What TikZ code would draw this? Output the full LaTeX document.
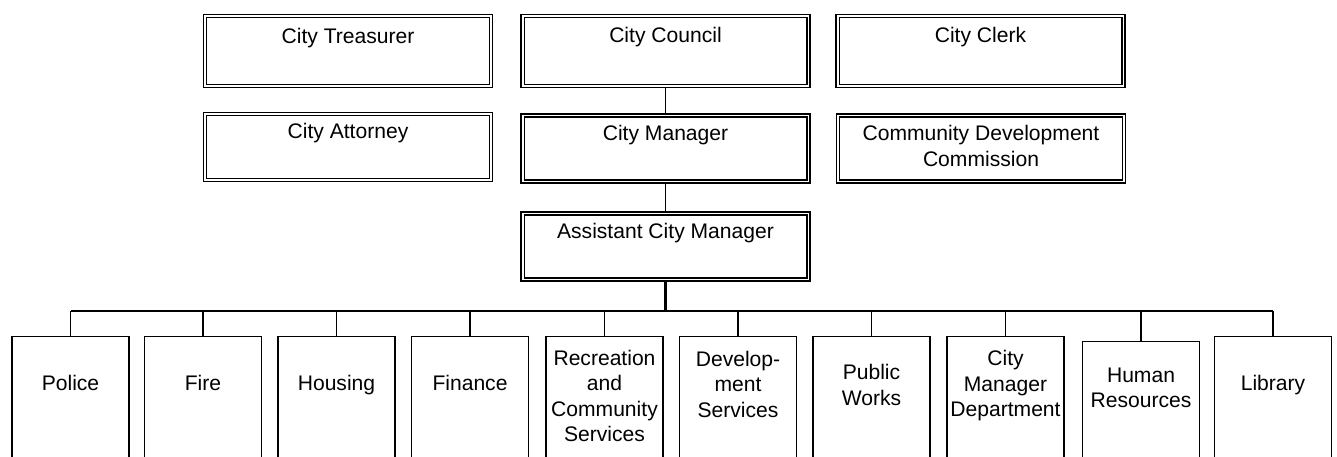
\documentclass[tikz,border=0pt]{standalone}
\usepackage{fontspec}
\setmainfont{Liberation Sans}
\tikzset{
  office/.style={draw, double, double distance=1.1pt, line width=0.7pt, minimum width=5.72cm, minimum height=1.32cm},
  unit/.style={draw, line width=0.75pt, anchor=north, minimum width=2.34cm, minimum height=3cm},
  lbl/.style={align=center, inner sep=0pt},
  word/.style={lbl, text height=0.8em, text depth=0.25em},
}
\begin{document}
\begin{tikzpicture}[x=0.02cm, y=-0.02cm, font=\fontsize{12}{14.5}\selectfont]
    \useasboundingbox (0,0) rectangle (1337,456);
    \clip (0,0) rectangle (1337,456);
    % elected offices
    \node[office, minimum height=1.4cm] (treasurer) at (348,51) {};
    \node[office, minimum height=1.4cm] (council) at (665.5,51) {};
    \node[office, minimum height=1.4cm] (clerk) at (980.5,51) {};
    \node[office] (attorney) at (348,147) {};
    \node[office] (manager) at (665.5,148.5) {};
    \node[office] (cdc) at (981,148.5) {};
    \node[office] (acm) at (665.5,246.5) {};
    \node[word] (treasurerT) at (348,39) {City Treasurer};
    \node[word] (councilT) at (665.5,38) {City Council};
    \node[word] (clerkT) at (980.5,38) {City Clerk};
    \node[word] (attorneyT) at (348,134) {City Attorney};
    \node[word] (managerT) at (665.5,136) {City Manager};
    \node[lbl] (cdcT) at (981,146) {Community Development\\Commission};
    \node[word] (acmT) at (665.5,234) {Assistant City Manager};
    % departments
    \node[unit] (police) at (70.5,336) {};
    \node[unit] (fire) at (203,336) {};
    \node[unit] (housing) at (336.5,336) {};
    \node[unit] (finance) at (470,336) {};
    \node[unit] (recreation) at (604.5,336) {};
    \node[unit] (development) at (738,336) {};
    \node[unit] (works) at (871.5,336) {};
    \node[unit] (cmd) at (1005.5,336) {};
    \node[unit] (hr) at (1141,341) {};
    \node[unit] (library) at (1273,336) {};
    \node[word] (policeT) at (70.5,386) {Police};
    \node[word] (fireT) at (203,386) {Fire};
    \node[word] (housingT) at (336.5,386) {Housing};
    \node[word] (financeT) at (470,386) {Finance};
    \node[lbl] (recreationT) at (604.5,396) {Recreation\\and\\Community\\Services};
    \node[lbl] (developmentT) at (738,384) {Develop-\\ment\\Services};
    \node[lbl] (worksT) at (871.5,385) {Public\\Works};
    \node[lbl] (cmdT) at (1005.5,386) {City\\Manager\\Department};
    \node[lbl] (hrT) at (1141,388) {Human\\Resources};
    \node[word] (libraryT) at (1273,386) {Library};
    % lines
    \coordinate (bus) at (665.5,311);
    \draw[line width=0.6pt] (council.south) -- (manager.north);
    \draw[line width=0.6pt] (manager.south) -- (acm.north);
    \draw[line width=1.7pt] (acm.south) -- (bus);
    \draw[line width=1.2pt] (police.north |- bus) -- (library.north |- bus);
    \draw[line width=0.6pt] (police.north) -- (police.north |- bus);
    \draw[line width=0.6pt] (fire.north) -- (fire.north |- bus);
    \draw[line width=0.6pt] (housing.north) -- (housing.north |- bus);
    \draw[line width=0.6pt] (finance.north) -- (finance.north |- bus);
    \draw[line width=0.6pt] (recreation.north) -- (recreation.north |- bus);
    \draw[line width=0.6pt] (development.north) -- (development.north |- bus);
    \draw[line width=0.6pt] (works.north) -- (works.north |- bus);
    \draw[line width=0.6pt] (cmd.north) -- (cmd.north |- bus);
    \draw[line width=0.6pt] (hr.north) -- (hr.north |- bus);
    \draw[line width=0.6pt] (library.north) -- (library.north |- bus);
\end{tikzpicture}
\end{document}
